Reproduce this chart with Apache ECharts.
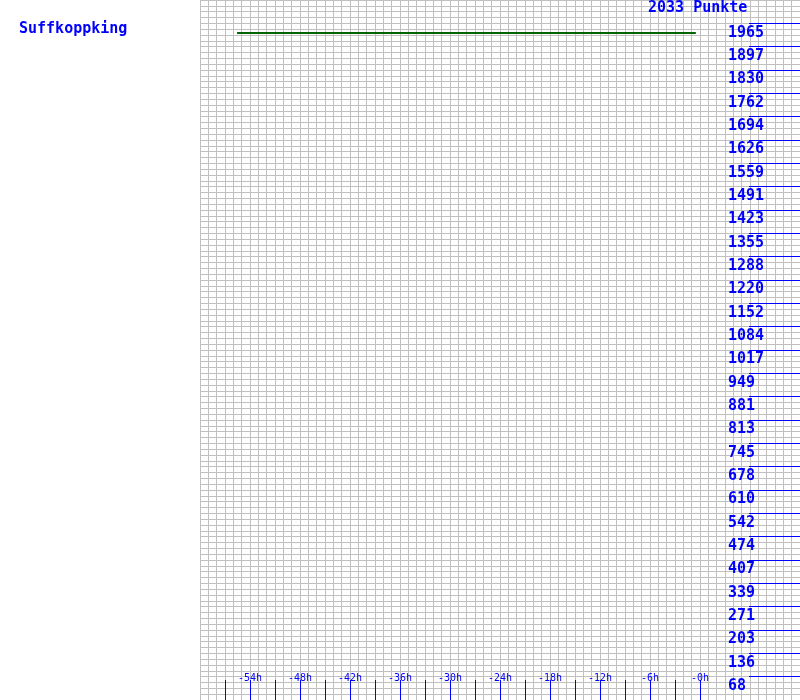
<!DOCTYPE html>
<html>
<head>
<meta charset="utf-8">
<script src="https://cdn.jsdelivr.net/npm/echarts@6/dist/echarts.min.js"></script>
<style>
html,body{margin:0;padding:0;background:#fff;}
#c{width:800px;height:700px;}
</style>
</head>
<body>
<div id="c"></div>
<script>
// ---- data ----
const playerName = 'Suffkoppking';
const maxPoints = 2033;
const unitLabel = 'Punkte';
const seriesHours = [-55.55, -0.5];
const seriesPoints = [1937, 1937];
const yTickLabels = ['68','136','203','271','339','407','474','542','610','678','745','813','881','949','1017','1084','1152','1220','1288','1355','1423','1491','1559','1626','1694','1762','1830','1897','1965'];
const xTickHours = [-54, -48, -42, -36, -30, -24, -18, -12, -6, 0];
const xTickLabels = ['-54h','-48h','-42h','-36h','-30h','-24h','-18h','-12h','-6h','-0h'];
const xMarkHours = [-57,-54,-51,-48,-45,-42,-39,-36,-33,-30,-27,-24,-21,-18,-15,-12,-9,-6,-3,0];

const yTickValues = yTickLabels.map((_, i) => maxPoints * (i + 1) / 30);
const blue = '#0000ff';
const mono = '"DejaVu Sans Mono", "Liberation Mono", monospace';

const chart = echarts.init(document.getElementById('c'), null, {renderer: 'canvas'});
chart.setOption({
  animation: false,
  backgroundColor: '#ffffff',
  title: [
    {text: playerName, left: 19, top: 22, padding: 0,
     textStyle: {color: blue, fontSize: 15, fontWeight: 'bold', fontFamily: mono}},
    {text: maxPoints + ' ' + unitLabel, left: 648, top: 1, padding: 0,
     textStyle: {color: blue, fontSize: 15, fontWeight: 'bold', fontFamily: mono}}
  ],
  grid: {left: 200, right: 0, top: 0, bottom: 0, containLabel: false},
  xAxis: [
    {type: 'value', min: -60, max: 12, interval: 1, position: 'bottom', z: 0,
     axisLine: {show: false, onZero: false}, axisTick: {show: false}, axisLabel: {show: false},
     splitLine: {show: true, lineStyle: {color: '#c0c0c0', width: 1}}},
    {type: 'value', min: -60, max: 12, position: 'bottom', z: 10,
     axisLine: {show: false, onZero: false}, splitLine: {show: false},
     axisTick: {show: false},
     axisLabel: {show: true, inside: true, customValues: xTickHours, margin: 22,
                 verticalAlign: 'middle', color: blue, fontSize: 10, fontFamily: mono,
                 formatter: v => xTickLabels[xTickHours.indexOf(Math.round(v))] || ''}},
    {type: 'value', min: -60, max: 12, position: 'bottom', z: 10,
     axisLine: {show: false, onZero: false, lineStyle: {color: blue}}, splitLine: {show: false},
     axisTick: {show: true, inside: true, length: 20, customValues: xMarkHours,
                lineStyle: {color: blue, width: 1, opacity: 1}},
     axisLabel: {show: true, inside: true, customValues: xMarkHours, margin: 22,
                 color: blue, fontSize: 10, fontFamily: mono, formatter: () => ''}}
  ],
  yAxis: [
    {type: 'value', min: 0, max: maxPoints, interval: maxPoints / 120, z: 0,
     axisLine: {show: false, onZero: false}, axisTick: {show: false}, axisLabel: {show: false},
     splitLine: {show: true, lineStyle: {color: '#c0c0c0', width: 1}}},
    {type: 'value', min: 0, max: maxPoints, position: 'right', z: 10,
     axisLine: {show: false, onZero: false, lineStyle: {color: blue}}, splitLine: {show: false},
     axisTick: {show: true, inside: true, length: 51, customValues: yTickValues,
                lineStyle: {color: blue, width: 1, opacity: 1}},
     axisLabel: {show: true, inside: true, customValues: yTickValues, margin: 72,
                 align: 'left', verticalAlign: 'top', padding: [2, 0, 0, 0],
                 color: blue, fontSize: 15, fontWeight: 'bold', fontFamily: mono,
                 formatter: v => yTickLabels[Math.round(v * 30 / maxPoints) - 1] || ''}}
  ],
  series: [{
    type: 'line', xAxisIndex: 0, yAxisIndex: 0, showSymbol: false, z: 5,
    lineStyle: {color: '#006400', width: 2},
    data: seriesHours.map((h, i) => [h, seriesPoints[i]])
  }]
});
</script>
</body>
</html>
